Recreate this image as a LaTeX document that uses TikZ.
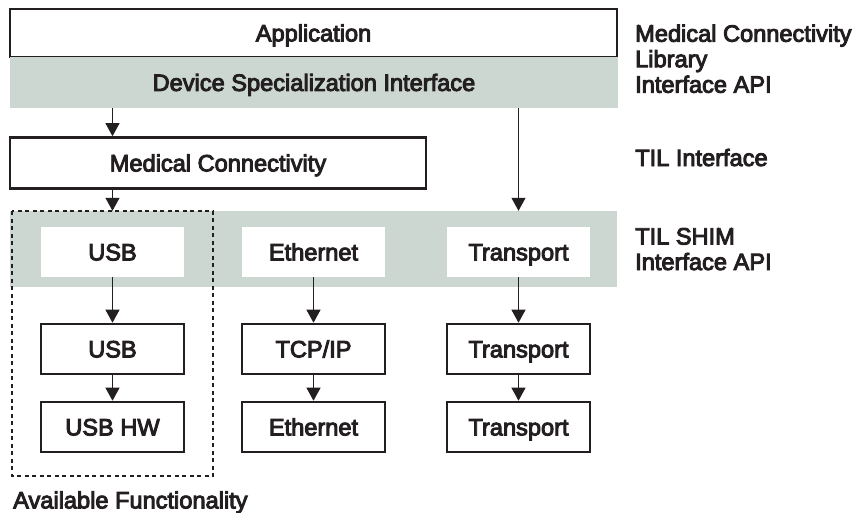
\documentclass[tikz,border=0pt]{standalone}
\usepackage{fontspec}
\setmainfont{Liberation Sans}[FakeBold=4]
\usetikzlibrary{arrows.meta}
\definecolor{band}{RGB}{205,215,210}
\definecolor{ink}{RGB}{35,31,32}
\begin{document}
\begin{tikzpicture}[x=1pt,y=-1pt,
  every node/.style={font=\fontsize{23.6}{26}\selectfont, inner sep=0pt, text=ink, text height=16.8pt, text depth=0pt},
  box/.style={draw=ink, line width=2.6pt, fill=white, minimum width=143pt, minimum height=50pt},
  wbox/.style={fill=white, minimum width=143pt, minimum height=50pt},
  bandbox/.style={fill=band},
  arr/.style={draw=ink, line width=1.1pt, -{Triangle[width=14pt 0 0,length=13pt 0 0]}},
  side/.style={anchor=base west},
  ]
\useasboundingbox (0,0) rectangle (858,512);
% top layer
\node[box, minimum width=607pt, minimum height=48pt] (app) at (313.5,33) {Application};
\node[bandbox, minimum width=608pt, minimum height=51pt] (dsi) at (314,82.5) {Device Specialization Interface};
\node[box, minimum width=416pt, minimum height=51pt] (mc) at (218,163) {Medical Connectivity};
% TIL SHIM band
\node[bandbox, minimum width=607pt, minimum height=76pt] (shim) at (313.5,249) {};
\node[wbox] (usbw) at (112.5,252) {USB};
\node[wbox] (ethw) at (313.5,252) {Ethernet};
\node[wbox] (trw) at (518.5,252) {Transport};
% lower stacks
\node[box] (usb) at (112.5,349) {USB};
\node[box] (usbhw) at (112.5,427) {USB HW};
\node[box] (tcp) at (313.5,349) {TCP/IP};
\node[box] (eth) at (313.5,427) {Ethernet};
\node[box] (tr1) at (518.5,349) {Transport};
\node[box] (tr2) at (518.5,427) {Transport};
% available functionality frame
\draw[ink, line width=1.2pt, dash pattern=on 4pt off 3.5pt] (12,211) rectangle (213,476);
\node[anchor=west] (avail) at (13,500) {Available Functionality};
% connectors
\draw[arr] (dsi.south -| usbw.center) -- (mc.north -| usbw.center);
\draw[arr] (mc.south -| usbw.center) -- (shim.north -| usbw.center);
\draw[arr] (dsi.south -| trw.center) -- (shim.north -| trw.center);
\draw[arr] (usbw) -- (usb);
\draw[arr] (usb) -- (usbhw);
\draw[arr] (ethw) -- (tcp);
\draw[arr] (tcp) -- (eth);
\draw[arr] (trw) -- (tr1);
\draw[arr] (tr1) -- (tr2);
% side labels
\node[side] (lbl1a) at (635,41.7) {Medical Connectivity};
\node[side] (lbl1b) at (635,67.2) {Library};
\node[side] (lbl1c) at (635,92.7) {Interface API};
\node[side] (lbl2) at (635,166) {TIL Interface};
\node[side] (lbl3a) at (635,244.5) {TIL SHIM};
\node[side] (lbl3b) at (635,270) {Interface API};
\end{tikzpicture}
\end{document}
